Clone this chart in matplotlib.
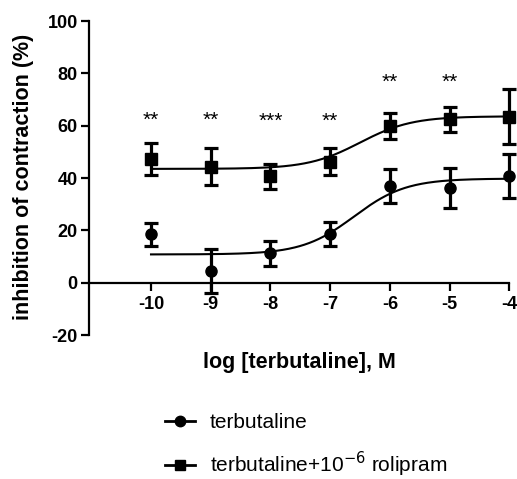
import numpy as np
import matplotlib.pyplot as plt
import matplotlib as mpl

mpl.rcParams.update({
    "font.family": ["Liberation Sans", "DejaVu Sans"],
    "font.size": 12,
    "axes.linewidth": 1.6,
    "axes.unicode_minus": False,
})

# ---- data ----
log_conc = [-10, -9, -8, -7, -6, -5, -4]

terb_mean = [18.5, 4.5, 11.2, 18.6, 37.0, 36.1, 40.8]
terb_err = [4.5, 8.5, 4.8, 4.6, 6.5, 7.6, 8.3]

roli_mean = [47.3, 44.4, 40.6, 46.2, 59.9, 62.4, 63.5]
roli_err = [6.0, 7.1, 4.8, 5.1, 4.8, 4.8, 10.6]

stars = ["**", "**", "***", "**", "**", "**", ""]
star_y = [62.0, 62.0, 61.5, 61.5, 76.5, 76.5, 0]

y_ticks = [-20, 0, 20, 40, 60, 80, 100]

# sigmoid fit parameters (bottom, top, logEC50), Hill slope 1
terb_fit = (10.8, 39.8, -6.6)
roli_fit = (43.5, 63.6, -6.5)


def sigmoid(x, bottom, top, logec50):
    return bottom + (top - bottom) / (1 + 10 ** (logec50 - x))


fig = plt.figure(figsize=(5.17, 4.79), dpi=100)
ax = fig.add_axes([0.172, 0.3006, 0.813, 0.6554])

# spine position first: set_position resets the ticks
ax.spines["top"].set_visible(False)
ax.spines["right"].set_visible(False)
ax.spines["bottom"].set_position(("data", 0))

xs = np.linspace(-10, -4, 300)
for mean, err, fit, marker, lab in [
    (terb_mean, terb_err, terb_fit, "o", "terbutaline"),
    (roli_mean, roli_err, roli_fit, "s", "terbutaline+10$^{-6}$ rolipram"),
]:
    ax.plot(xs, sigmoid(xs, *fit), color="black", linewidth=1.5, clip_on=False)
    ax.errorbar(log_conc, mean, yerr=err, fmt=marker, color="black",
                markersize=8, elinewidth=2.3, capsize=4.8, capthick=2.3,
                clip_on=False)
    # legend proxy
    ax.plot([], [], marker=marker, color="black", markersize=7.5,
            linewidth=2, label=lab)

for x, s, y in zip(log_conc, stars, star_y):
    if s:
        ax.text(x, y, s, ha="center", va="center", fontsize=15)

ax.set_xlim(-11.04, -4)
ax.set_ylim(-20, 100)
ax.tick_params(axis="both", width=1.6, length=5.5, pad=2.5)
ax.tick_params(axis="x", pad=4)
ax.set_xticks(log_conc, labels=[str(v) for v in log_conc],
              fontweight="bold", fontsize=13)
ax.set_yticks(y_ticks, labels=[str(v) for v in y_ticks],
              fontweight="bold", fontsize=13)

ax.set_ylabel("inhibition of contraction (%)", fontweight="bold", fontsize=15.5)
ax.yaxis.set_label_coords(-0.13, 0.505)
fig.text(0.580, 0.244, "log [terbutaline], M", ha="center", va="center",
         fontweight="bold", fontsize=15.5)

h, l = ax.get_legend_handles_labels()
fig.legend(h[-2:], l[-2:], loc="upper left", bbox_to_anchor=(165 / 517, 0.137),
           frameon=False, fontsize=15, handlelength=1.45, handletextpad=0.7,
           labelspacing=0.85, borderpad=0, borderaxespad=0)

plt.savefig("out.png", dpi=100)
